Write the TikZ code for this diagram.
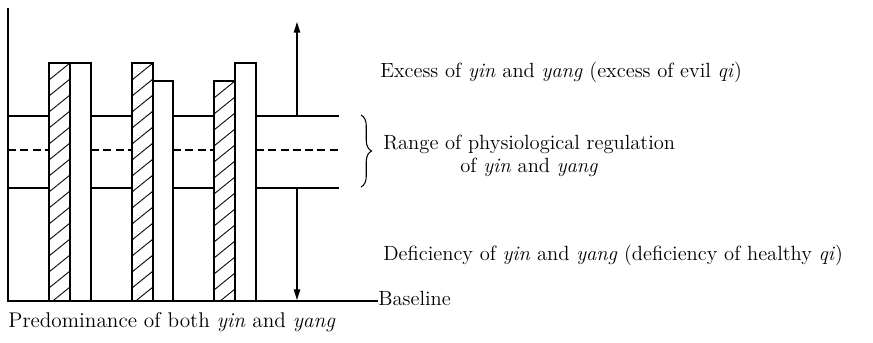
\documentclass[tikz,border=0pt]{standalone}
\usetikzlibrary{arrows.meta,decorations.pathreplacing}

\begin{document}
\begin{tikzpicture}[
  x=0.02cm, y=-0.02cm,
  frame/.style={line width=0.8pt},
  levelline/.style={line width=0.8pt},
  midline/.style={line width=0.8pt, dash pattern=on 4.5pt off 2.5pt},
  hatchline/.style={line width=0.5pt},
  lbl/.style={anchor=west, inner sep=0pt, font={\fontsize{11.7}{13.2}\selectfont}},
  bigarrow/.style={line width=0.7pt, -{Triangle[length=6pt, width=3.6pt]}}
]
\useasboundingbox (0,0) rectangle (873,342);

% axes
\coordinate (top) at (8,8);
\coordinate (origin) at (8,301);
\node[lbl] (baseline) at (378,298) {Baseline};
\draw[frame] (top) -- (origin) -- (baseline.west |- origin);

% regulation levels between the bars
\foreach \xa/\xb in {8/50, 91/132, 173/214, 256/339} {
  \draw[levelline] (\xa,116) -- (\xb,116);
  \draw[midline] (\xa,150) -- (\xb,150);
  \draw[levelline] (\xa,188) -- (\xb,188);
}

% hatched (yin) bars
\foreach \xl/\xr/\yt in {49/70/63, 132/153/63, 214/235/81} {
  \begin{scope}
    \clip (\xl,\yt) rectangle (\xr,301);
    \foreach \k in {0,...,16}
      \draw[hatchline] (\xr,\yt+\k*16) -- (\xl,\yt+\k*16+17);
  \end{scope}
  \draw[frame] (\xl,\yt) rectangle (\xr,301);
}

% white (yang) bars
\foreach \xl/\xr/\yt in {70/91/63, 153/173/81, 235/256/63}
  \draw[frame] (\xl,\yt) rectangle (\xr,301);

% arrows
\coordinate (up0) at (297,116);
\coordinate (up1) at (297,22);
\coordinate (dn0) at (297,188);
\coordinate (dn1) at (297,300);
\draw[bigarrow] (up0) -- (up1);
\draw[bigarrow] (dn0) -- (dn1);

% brace
\coordinate (br0) at (361,115);
\coordinate (br1) at (361,187);
\draw[line width=0.6pt, decorate, decoration={brace, amplitude=6pt}] (br0) -- (br1);

% labels
\node[lbl] (excess) at (380,72) {Excess of \textit{yin} and \textit{yang} (excess of evil \textit{qi})};
\node[lbl, align=center] (range) at (383,156) {Range of physiological regulation\\of \textit{yin} and \textit{yang}};
\node[lbl] (deficiency) at (383,255) {Deficiency of \textit{yin} and \textit{yang} (deficiency of healthy \textit{qi})};
\node[lbl, font={\fontsize{12.1}{14}\selectfont}] (predom) at (8,322) {Predominance of both \textit{yin} and \textit{yang}};
\end{tikzpicture}
\end{document}
